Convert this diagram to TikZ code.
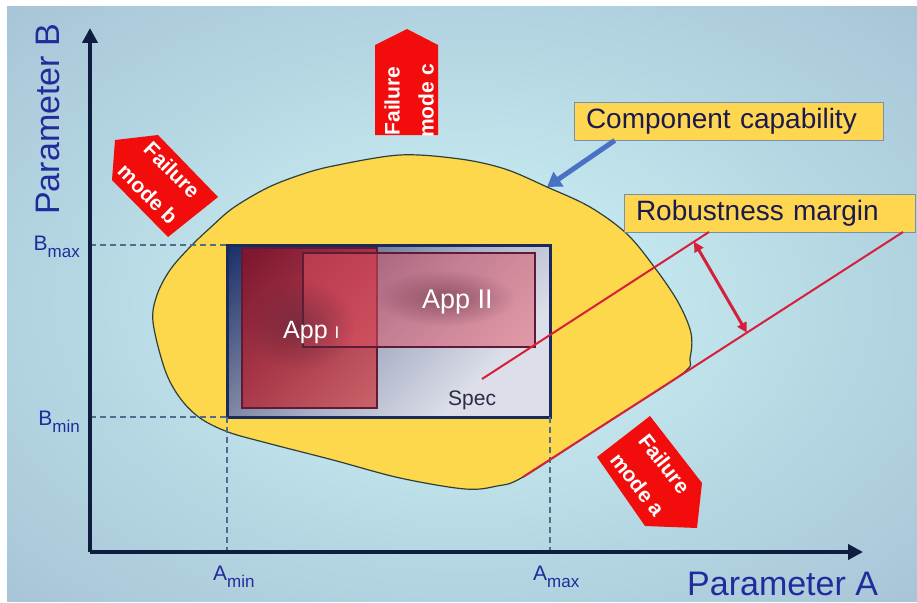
\documentclass[tikz,border=0pt]{standalone}
\usepackage{fontspec}
\setmainfont{Liberation Sans}
\usetikzlibrary{arrows.meta,calc,fadings}

\definecolor{bgin}{HTML}{C6EAF0}
\definecolor{bgmid}{HTML}{B4D6E2}
\definecolor{bgout}{HTML}{A7C4D7}
\definecolor{capyellow}{HTML}{FDD84C}
\definecolor{boxyellow}{HTML}{FFD650}
\definecolor{boxedge}{HTML}{7890B0}
\definecolor{blobedge}{HTML}{2F3F3A}
\definecolor{axisnavy}{HTML}{0E1E3E}
\definecolor{labelblue}{HTML}{1F2C9C}
\definecolor{textnavy}{HTML}{1A1A4E}
\definecolor{spectext}{HTML}{2B2B45}
\definecolor{dashblue}{HTML}{4E6E8E}
\definecolor{specedge}{HTML}{1A2A5A}
\definecolor{specdark}{HTML}{1A2F6A}
\definecolor{specmid}{HTML}{6E7898}
\definecolor{specsoft}{HTML}{A8AEC4}
\definecolor{speclight}{HTML}{DCDFE9}
\definecolor{appdark}{HTML}{7E1830}
\definecolor{appmid}{HTML}{A83848}
\definecolor{applight}{HTML}{C86068}
\definecolor{apptwofill}{HTML}{E05062}
\definecolor{appedge}{HTML}{5E1A36}
\definecolor{spotcol}{HTML}{5A2438}
\definecolor{marginred}{HTML}{D61F38}
\definecolor{arrowblue}{HTML}{4A72C4}
\definecolor{failred}{HTML}{F20C0C}

% panel background: light cyan centre fading to greyish blue edges
\pgfdeclareradialshading{panelshade}{\pgfpoint{0bp}{0bp}}{%
  color(0bp)=(bgin); color(8bp)=(bgin); color(22bp)=(bgmid);
  color(36bp)=(bgout); color(50bp)=(bgout)}
% spec window: dark navy corner at the top left, light towards bottom right
\pgfdeclareverticalshading{specshade}{100bp}{%
  color(0bp)=(speclight); color(30bp)=(speclight); color(50bp)=(specsoft);
  color(65bp)=(specmid); color(85bp)=(specdark); color(100bp)=(specdark)}
\pgfdeclareverticalshading{appshade}{100bp}{%
  color(0bp)=(applight); color(18bp)=(applight); color(50bp)=(appmid);
  color(82bp)=(appdark); color(100bp)=(appdark)}
\tikzfading[name=softspot, inner color=transparent!0, outer color=transparent!100]

\newcommand\limitsub[2]{#1{\fontsize{17}{17}\selectfont\raisebox{-7pt}{#2}}}

\begin{document}
\begin{tikzpicture}[x=1pt, y=-1pt,
  axisline/.style={draw=axisnavy, line width=4pt, -{Triangle[length=15pt,width=15pt]}},
  guide/.style={draw=dashblue, line width=1.3pt, dash pattern=on 6pt off 4pt},
  blob/.style={fill=capyellow, draw=blobedge, line width=1.2pt},
  specbox/.style={draw=specedge, line width=3pt, shading=specshade, shading angle=45, outer sep=0pt, inner sep=0pt},
  appone/.style={draw=appedge, line width=1.1pt, shading=appshade, shading angle=45, outer sep=0pt, inner sep=0pt},
  apptwo/.style={draw=appedge, line width=1.1pt, fill=apptwofill, fill opacity=0.5, draw opacity=1, outer sep=0pt, inner sep=0pt},
  apptext/.style={text=white, inner sep=0pt},
  callout/.style={fill=boxyellow, draw=boxedge, line width=0.9pt, inner xsep=12pt, inner ysep=0pt, minimum height=38pt, align=left, text=textnavy, font=\fontsize{28}{32}\selectfont},
  marginline/.style={draw=marginred, line width=2pt},
  marginarrow/.style={draw=marginred, line width=3pt, {Triangle[length=10pt,width=10pt]}-{Triangle[length=10pt,width=10pt]}},
  pointer/.style={draw=arrowblue, line width=5pt, -{Triangle[length=14pt,width=17pt]}},
  failshape/.style={fill=failred},
  failtext/.style={text=white, font=\bfseries\fontsize{21}{34}\selectfont, align=center, inner sep=0pt},
  axislabel/.style={text=labelblue, font=\fontsize{34}{40}\selectfont, inner sep=0pt},
  limitlabel/.style={text=labelblue, font=\fontsize{21}{24}\selectfont, inner sep=0pt},
]
\useasboundingbox (0,0) rectangle (917,602);
\fill[white] (0,0) rectangle (917,602);
\shade[shading=panelshade] (7,7) rectangle (917,601);

% component capability region
\draw[blob] plot[smooth cycle, tension=0.55] coordinates {
  (153,322) (157,295) (170,270) (190,247) (210,228) (233,208) (267,188)
  (300,175) (333,166) (400,155) (460,159) (505,169) (547,187) (590,207)
  (627,234) (655,268) (678,302) (691,333) (690,358) (682,374) (600,427)
  (523,477) (497,486) (465,489) (400,478) (333,460) (267,443) (228,432)
  (200,418) (180,398) (165,370)};

% axes
\coordinate (O) at (90,552);
\coordinate (ytop) at (90,28);
\coordinate (xend) at (863,552);

% specification window and applications
\node[specbox, minimum width=323pt, minimum height=172pt] (spec) at (388.5,331) {};
\draw[guide] (O |- spec.north west) -- (spec.north west);
\draw[guide] (O |- spec.south west) -- (spec.south west);
\draw[guide] (spec.south west) -- (spec.south west |- O);
\draw[guide] (spec.south east) -- (spec.south east |- O);
\draw[axisline] (O) -- (ytop);
\draw[axisline] (O) -- (xend);

\node[appone, minimum width=135pt, minimum height=160pt] (app1) at (309.5,328) {};
\node[apptwo, minimum width=232pt, minimum height=94pt] (app2) at (419,300) {};
\fill[spotcol, fill opacity=0.55, path fading=softspot] (300,325) ellipse [x radius=55pt, y radius=45pt];
\fill[spotcol, fill opacity=0.5, path fading=softspot] (445,298) ellipse [x radius=70pt, y radius=28pt];

\node[apptext, anchor=base west, font=\fontsize{25}{28}\selectfont] (t1) at (283,338) {App {\fontsize{17}{17}\selectfont I}};
\node[apptext, anchor=base west, font=\fontsize{27}{30}\selectfont] (t2) at (422,308) {App II};
\node[anchor=base west, inner sep=0pt, text=spectext, font=\fontsize{21}{24}\selectfont] (spectxt) at (448,405) {Spec};

% robustness margin
\node[callout, text width=285pt] (cc) at (728.5,121) {Component capability};
\node[callout, text width=267pt] (rm) at (769.5,213) {Robustness margin};
\coordinate (r1s) at (482,379);
\coordinate (r1e) at (709,232);
\coordinate (r2s) at (523,477);
\coordinate (r2e) at (903,232);
\draw[marginline] (r1s) -- (r1e);
\draw[marginline] (r2s) -- (r2e);
\coordinate (m1) at ($(r1s)!0.934!(r1e)$);
\coordinate (m2) at ($(r2s)!0.589!(r2e)$);
\draw[marginarrow] (m1) -- (m2);

% pointer to the capability boundary
\coordinate (ccfoot) at ($(cc.south west)!0.133!(cc.south east)$);
\coordinate (edgept) at (547,187);
\draw[pointer] (ccfoot) -- (edgept);

% failure modes
\fill[failshape] (375,135) -- (438,135) -- (438,45) -- (407,29) -- (375,45) -- cycle;
\node[failtext, rotate=90] (fc) at (409,101) {Failure\\mode c};
\fill[failshape] (115,140) -- (158,135) -- (218,197) -- (168,237) -- (112,180) -- cycle;
\node[failtext, rotate=-45] (fb) at (160,182) {Failure\\mode b};
\fill[failshape] (650,416) -- (702,483) -- (697,528) -- (645,526) -- (597,457) -- cycle;
\node[failtext, rotate=-52] (fa) at (651,474) {Failure\\mode a};

% axis labels and limits
\node[axislabel, rotate=90, anchor=base west] (pb) at (59,215) {Parameter B};
\node[axislabel, anchor=base west] (pa) at (687,595) {Parameter A};
\node[limitlabel, anchor=base east] (bmax) at (80,250) {\limitsub{B}{max}};
\node[limitlabel, anchor=base east] (bmin) at (80,425) {\limitsub{B}{min}};
\node[limitlabel, anchor=base west] (amin) at (213,580) {\limitsub{A}{min}};
\node[limitlabel, anchor=base west] (amax) at (533,580) {\limitsub{A}{max}};
\end{tikzpicture}
\end{document}
